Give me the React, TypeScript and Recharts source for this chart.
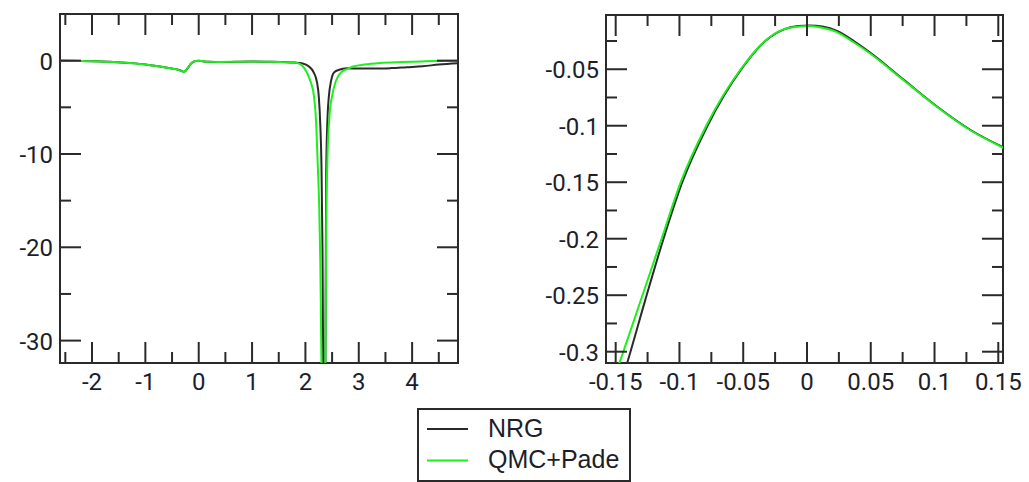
import React from "react";
import { LineChart, Line, XAxis, YAxis, ReferenceArea } from "recharts";

const seriesNames = ["NRG", "QMC+Pade"];

// left panel, full frequency range
const wideNrgX = [-2.6, -2.2, -2.0, -1.6, -1.3, -1.0, -0.7, -0.5, -0.4, -0.33, -0.28, -0.24, -0.2, -0.15, -0.1, -0.05, 0, 0.05, 0.1, 0.2, 0.4, 0.7, 1.0, 1.3, 1.6, 1.8, 1.95, 2.06, 2.16, 2.22, 2.25, 2.28, 2.3, 2.32, 2.34, 2.355, 2.37, 2.38, 2.39, 2.415, 2.44, 2.48, 2.53, 2.62, 2.78, 3.0, 3.3, 3.6, 3.9, 4.2, 4.5, 4.86];
const wideNrgY = [0, -0.03, -0.06, -0.14, -0.25, -0.4, -0.65, -0.85, -0.95, -1.08, -1.2, -1.05, -0.75, -0.35, -0.12, -0.03, -0.01, -0.035, -0.08, -0.13, -0.15, -0.12, -0.1, -0.12, -0.15, -0.2, -0.3, -0.6, -1.3, -2.4, -3.8, -7, -11, -20, -40, -55, -40, -24, -12, -6, -3.8, -2.2, -1.3, -1.0, -0.82, -0.85, -0.85, -0.8, -0.7, -0.6, -0.42, -0.28];
const wideQmcX = [-2.6, -2.2, -2.0, -1.6, -1.3, -1.0, -0.7, -0.5, -0.4, -0.33, -0.28, -0.24, -0.2, -0.15, -0.1, -0.05, 0, 0.05, 0.1, 0.2, 0.4, 0.7, 1.0, 1.3, 1.6, 1.75, 1.85, 1.95, 2.03, 2.1, 2.16, 2.2, 2.23, 2.26, 2.28, 2.3, 2.32, 2.34, 2.36, 2.375, 2.39, 2.41, 2.45, 2.5, 2.57, 2.66, 2.78, 2.91, 3.1, 3.4, 3.8, 4.2, 4.5, 4.86];
const wideQmcY = [0, -0.03, -0.06, -0.15, -0.26, -0.41, -0.66, -0.86, -0.96, -1.1, -1.22, -1.02, -0.72, -0.33, -0.11, -0.03, -0.01, -0.04, -0.08, -0.13, -0.14, -0.12, -0.1, -0.12, -0.16, -0.2, -0.25, -0.6, -1.3, -2.3, -3.8, -6.5, -11, -16, -22, -32, -45, -52, -45, -32, -18, -11, -6, -3.8, -2.2, -1.3, -0.9, -0.6, -0.42, -0.25, -0.15, -0.08, -0.04, -0.02];

// right panel, zoom around zero
const zoomNrgX = [-0.158, -0.141, -0.127, -0.1125, -0.0978, -0.078, -0.0515, -0.0325, -0.018, -0.007, 0.002, 0.012, 0.024, 0.037, 0.05, 0.0762, 0.1022, 0.1283, 0.154];
const zoomNrgY = [-0.37, -0.31, -0.255, -0.2, -0.15, -0.1, -0.05, -0.0248, -0.0147, -0.0118, -0.0112, -0.0121, -0.0162, -0.0252, -0.0356, -0.0596, -0.0832, -0.1038, -0.1192];
const zoomQmcX = [-0.158, -0.144, -0.129, -0.114, -0.099, -0.079, -0.052, -0.033, -0.019, -0.008, 0, 0.01, 0.023, 0.036, 0.0495, 0.0758, 0.102, 0.128, 0.154];
const zoomQmcY = [-0.345, -0.3, -0.25, -0.2, -0.15, -0.1, -0.05, -0.025, -0.015, -0.0125, -0.0118, -0.0128, -0.0169, -0.0257, -0.0361, -0.0598, -0.0834, -0.104, -0.1195];

const wideXMajor = [-2, -1, 0, 1, 2, 3, 4];
const wideXMinor = [-2.5, -1.5, -0.5, 0.5, 1.5, 2.5, 3.5, 4.5];
const wideYMajor = [0, -10, -20, -30];
const wideYMinor = [-5, -15, -25];

const zoomXMajor = [-0.15, -0.1, -0.05, 0, 0.05, 0.1, 0.15];
const zoomXMinor = [-0.125, -0.075, -0.025, 0.025, 0.075, 0.125];
const zoomYMajor = [-0.05, -0.1, -0.15, -0.2, -0.25, -0.3];
const zoomYMinor = [-0.025, -0.075, -0.125, -0.175, -0.225, -0.275];

const INK = "#2a2a2a";
const GREEN = "#1ef01e";
const colors = [INK, GREEN];
const tickFont = "Roboto, 'Liberation Sans', sans-serif";

const zip = (xs: number[], ys: number[]) => xs.map((x, i) => ({ x, y: ys[i] }));

type Box = { left: number; right: number; top: number; bottom: number };

function XTick(props: any) {
  const { x, payload, box, major } = props;
  const v = payload.value;
  const isMajor = major.includes(v);
  const len = isMajor ? 21 : 11;
  return (
    <g>
      <line x1={x} x2={x} y1={box.bottom} y2={box.bottom - len} stroke={INK} strokeWidth={2} />
      <line x1={x} x2={x} y1={box.top} y2={box.top + len} stroke={INK} strokeWidth={2} />
      {isMajor && (
        <text x={x} y={box.bottom + 27} textAnchor="middle" fontFamily={tickFont} fontSize={24} fill="#1e1e2a">
          {String(v)}
        </text>
      )}
    </g>
  );
}

function YTick(props: any) {
  const { y, payload, box, major } = props;
  const v = payload.value;
  const isMajor = major.includes(v);
  const len = isMajor ? 21 : 11;
  return (
    <g>
      <line x1={box.left} x2={box.left + len} y1={y} y2={y} stroke={INK} strokeWidth={2} />
      <line x1={box.right} x2={box.right - len} y1={y} y2={y} stroke={INK} strokeWidth={2} />
      {isMajor && (
        <text x={box.left - 7} y={y + 9} textAnchor="end" fontFamily={tickFont} fontSize={24} fill="#1e1e2a">
          {String(v)}
        </text>
      )}
    </g>
  );
}

function Panel(props: {
  width: number;
  height: number;
  margin: { top: number; right: number; left: number; bottom: number };
  yAxisWidth: number;
  xDomain: [number, number];
  yDomain: [number, number];
  xMajor: number[];
  xMinor: number[];
  yMajor: number[];
  yMinor: number[];
  series: { x: number; y: number }[][];
}) {
  const { width, height, margin, yAxisWidth, xDomain, yDomain } = props;
  const xAxisHeight = 37;
  const box: Box = {
    left: margin.left + yAxisWidth,
    right: width - margin.right,
    top: margin.top,
    bottom: height - margin.bottom - xAxisHeight,
  };
  return (
    <LineChart width={width} height={height} margin={margin}>
      <XAxis
        dataKey="x"
        type="number"
        domain={xDomain}
        allowDataOverflow
        ticks={[...props.xMajor, ...props.xMinor]}
        interval={0}
        tickLine={false}
        axisLine={false}
        tickSize={0}
        height={xAxisHeight}
        tick={(p: any) => <XTick {...p} box={box} major={props.xMajor} />}
      />
      <YAxis
        type="number"
        domain={yDomain}
        allowDataOverflow
        ticks={[...props.yMajor, ...props.yMinor]}
        interval={0}
        tickLine={false}
        axisLine={false}
        tickSize={0}
        width={yAxisWidth}
        tick={(p: any) => <YTick {...p} box={box} major={props.yMajor} />}
      />
      {props.series.map((d, i) => (
        <Line
          key={seriesNames[i]}
          name={seriesNames[i]}
          data={d}
          dataKey="y"
          type="monotone"
          stroke={colors[i]}
          strokeWidth={2}
          dot={false}
          isAnimationActive={false}
        />
      ))}
      <ReferenceArea
        x1={xDomain[0]}
        x2={xDomain[1]}
        y1={yDomain[0]}
        y2={yDomain[1]}
        fill="none"
        fillOpacity={0}
        stroke={INK}
        strokeWidth={2}
        ifOverflow="visible"
      />
    </LineChart>
  );
}

function LegendBox() {
  return (
    <svg width={214} height={74} style={{ position: "absolute", left: 417, top: 408 }}>
      <rect x={1} y={1} width={212} height={72} fill="#fff" stroke={INK} strokeWidth={2} />
      {seriesNames.map((name, i) => (
        <g key={name}>
          <line x1={10} x2={51} y1={21 + i * 31.5} y2={21 + i * 31.5} stroke={colors[i]} strokeWidth={2} />
          <text x={71} y={29 + i * 31} fontFamily="'Liberation Sans', Arial, sans-serif" fontSize={25} fill="#1e1e2a">
            {name}
          </text>
        </g>
      ))}
    </svg>
  );
}

export default function App() {
  return (
    <div style={{ position: "absolute", left: 0, top: 0, width: 1029, height: 482, background: "#fff", overflow: "hidden" }}>
      <div style={{ position: "absolute", left: 0, top: 0 }}>
        <Panel
          width={470}
          height={400}
          margin={{ top: 14, right: 12, left: 0, bottom: 0 }}
          yAxisWidth={60}
          xDomain={[-2.6, 4.86]}
          yDomain={[-32.4, 5]}
          xMajor={wideXMajor}
          xMinor={wideXMinor}
          yMajor={wideYMajor}
          yMinor={wideYMinor}
          series={[zip(wideNrgX, wideNrgY), zip(wideQmcX, wideQmcY)]}
        />
      </div>
      <div style={{ position: "absolute", left: 520, top: 0 }}>
        <Panel
          width={509}
          height={400}
          margin={{ top: 15, right: 26, left: 0, bottom: 0 }}
          yAxisWidth={86}
          xDomain={[-0.1576, 0.1537]}
          yDomain={[-0.31, -0.002]}
          xMajor={zoomXMajor}
          xMinor={zoomXMinor}
          yMajor={zoomYMajor}
          yMinor={zoomYMinor}
          series={[zip(zoomNrgX, zoomNrgY), zip(zoomQmcX, zoomQmcY)]}
        />
      </div>
      <LegendBox />
    </div>
  );
}
